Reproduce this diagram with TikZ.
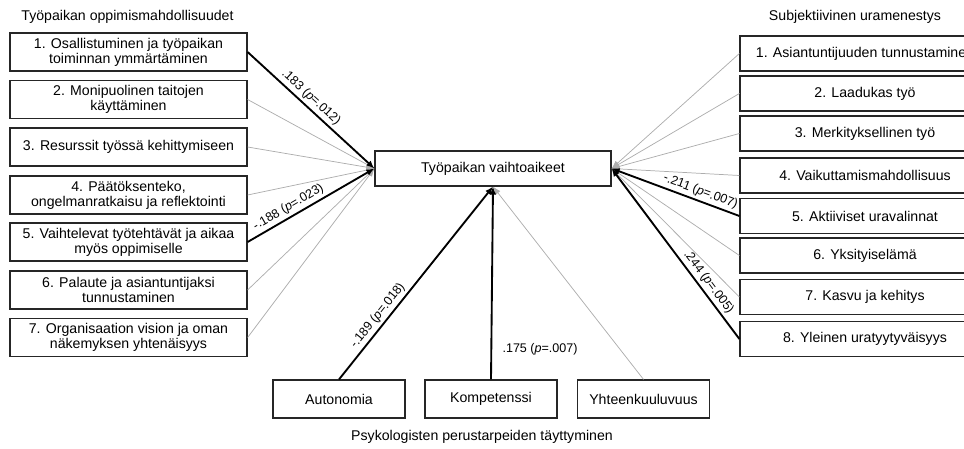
\documentclass[tikz,border=0pt]{standalone}
\usepackage{fontspec}
\setmainfont{Liberation Sans}
\usetikzlibrary{arrows.meta}
\begin{document}
\begin{tikzpicture}[x=0.75pt,y=-0.75pt,
  every node/.style={font=\fontsize{10.6}{11.4}\selectfont},
  box/.style={draw=black!85,line width=0.9pt,inner sep=0pt,align=center,fill=white},
  lbox/.style={box,minimum width=177.75pt,minimum height=28.5pt},
  rbox/.style={box,minimum width=187.5pt,minimum height=26.25pt},
  bbox/.style={box,minimum width=99pt,minimum height=28.5pt},
  cbox/.style={box,minimum width=177pt,minimum height=26.25pt},
  ttl/.style={inner sep=0pt},
  weak/.style={draw=black!32,line width=0.55pt,-{Latex[length=6pt,width=4.5pt]}},
  strong/.style={draw=black,line width=1.4pt,-{Latex[length=6pt,width=5pt]}},
  lbl/.style={font=\fontsize{9.4}{10}\selectfont,inner sep=2pt}
]
\useasboundingbox (0,0) rectangle (964,449);

\node[ttl] (tl) at (127.5,17) {Työpaikan oppimismahdollisuudet};
\node[ttl] (tr) at (855,17) {Subjektiivinen uramenestys};
\node[ttl] (tb) at (482,437) {Psykologisten perustarpeiden täyttyminen};

\node[cbox] (c) at (493,168.5) {Työpaikan vaihtoaikeet};

\node[lbox] (l1) at (128.5,52) {1. Osallistuminen ja työpaikan\\toiminnan ymmärtäminen};
\node[lbox] (l2) at (128.5,99.5) {2. Monipuolinen taitojen\\käyttäminen};
\node[lbox] (l3) at (128.5,147) {3. Resurssit työssä kehittymiseen};
\node[lbox] (l4) at (128.5,195) {4. Päätöksenteko,\\ongelmanratkaisu ja reflektointi};
\node[lbox] (l5) at (128.5,242) {5. Vaihtelevat työtehtävät ja aikaa\\myös oppimiselle};
\node[lbox] (l6) at (128.5,290) {6. Palaute ja asiantuntijaksi\\tunnustaminen};
\node[lbox] (l7) at (128.5,337.5) {7. Organisaation vision ja oman\\näkemyksen yhtenäisyys};

\node[rbox] (r1) at (865,53.5) {1. Asiantuntijuuden tunnustaminen};
\node[rbox] (r2) at (865,93.5) {2. Laadukas työ};
\node[rbox] (r3) at (865,133.5) {3. Merkityksellinen työ};
\node[rbox] (r4) at (865,175.5) {4. Vaikuttamismahdollisuus};
\node[rbox] (r5) at (865,216) {5. Aktiiviset uravalinnat};
\node[rbox] (r6) at (865,255.5) {6. Yksityiselämä};
\node[rbox] (r7) at (865,297) {7. Kasvu ja kehitys};
\node[rbox] (r8) at (865,339) {8. Yleinen uratyytyväisyys};

\node[bbox] (b1) at (339,399) {Autonomia};
\node[bbox] (b2) at (491,399) {Kompetenssi};
\node[bbox] (b3) at (643.5,399) {Yhteenkuuluvuus};

% weak paths
\foreach \n in {l2,l3,l4,l6,l7} \draw[weak] (\n.east) -- (c.west);
\foreach \n in {r1,r2,r3,r4,r6,r7} \draw[weak] (\n.west) -- (c.east);
\draw[weak] (b3.north) -- (c.south);

% strong paths
\draw[strong] (l1.east) -- node[lbl,sloped,above,pos=0.45] {.183 (\textit{p}=.012)} (c.west);
\draw[strong] (l5.east) -- node[lbl,sloped,above,pos=0.36] {-.188 (\textit{p}=.023)} (c.west);
\draw[strong] (r5.west) -- node[lbl,sloped,above,pos=0.33] {-.211 (\textit{p}=.007)} (c.east);
\draw[strong] (r8.west) -- node[lbl,sloped,above,pos=0.3] {.244 (\textit{p}=.005)} (c.east);
\draw[strong] (b1.north) -- node[lbl,sloped,above,pos=0.3] {-.189 (\textit{p}=.018)} (c.south);
\draw[strong] (b2.north) -- (c.south);
\node[lbl] (k) at (540,349) {.175 (\textit{p}=.007)};
\end{tikzpicture}
\end{document}
